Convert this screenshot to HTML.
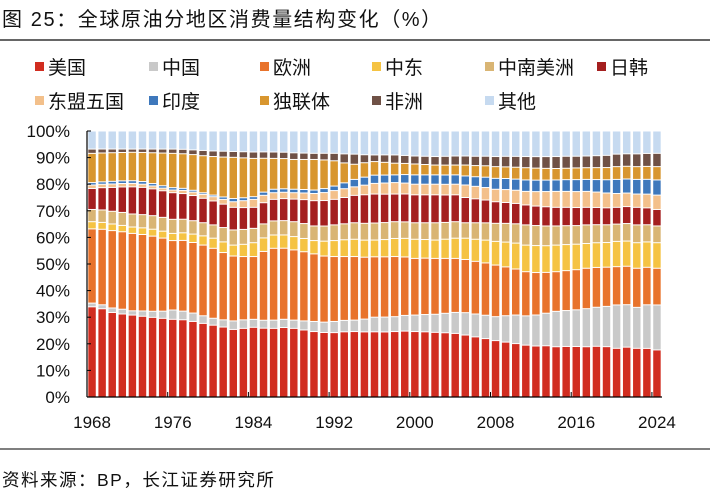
<!DOCTYPE html>
<html><head><meta charset="utf-8">
<style>
body{margin:0;background:#fff;}
#wrap{position:relative;width:710px;height:502px;overflow:hidden;font-family:"Liberation Sans","Noto Sans CJK SC",sans-serif;}
</style></head>
<body>
<div id="wrap">
<svg id="svg" width="710" height="502" xmlns="http://www.w3.org/2000/svg"></svg>
</div>
<script>
const years = [];
for (let y = 1968; y <= 2024; y++) years.push(y);
const seriesNames = ["美国","中国","欧洲","中东","中南美洲","日韩","东盟五国","印度","独联体","非洲","其他"];
const seriesColors = ["#d12d20","#c9c9c9","#e8732c","#f5c343","#d9b574","#a41f1f","#f3c08b","#3e78bc","#d8962f","#6f5146","#c6daf0"];
const usValues = [33.9,33.3,31.9,31.3,30.8,30.5,30.0,29.6,29.2,29.5,28.8,28.0,27.0,26.3,25.4,25.8,26.2,26.0,25.8,26.2,25.8,25.2,24.6,24.3,24.2,24.5,24.6,24.4,24.5,24.5,24.6,24.8,24.6,24.5,24.3,24.1,23.9,23.3,22.6,22.0,21.2,20.8,20.2,19.5,19.1,19.2,18.9,19.0,19.0,18.9,19.1,19.0,18.3,18.8,18.3,18.4,17.7];
const chinaValues = [1.4,1.5,1.7,1.8,1.6,2.0,2.3,2.7,3.5,3.3,3.2,2.9,2.6,2.7,3.2,3.2,3.0,3.0,3.1,3.1,3.1,3.4,3.8,3.9,4.2,4.3,4.3,4.8,5.5,5.6,5.6,5.9,6.2,6.5,6.8,7.3,7.9,8.4,8.6,8.8,9.0,10.0,10.8,11.0,11.6,12.2,13.3,13.5,13.8,14.3,14.7,15.2,16.3,16.0,15.4,16.5,16.9];
const europeValues = [27.9,28.5,29.2,29.2,29.1,28.9,28.3,27.5,26.1,27.0,26.9,26.9,26.3,25.3,24.4,23.8,23.6,26.0,27.0,26.8,26.4,26.0,25.4,24.9,24.4,24.0,23.9,23.2,22.7,22.7,22.6,22.0,21.3,21.2,21.0,20.6,20.3,20.0,19.8,19.7,19.4,18.5,17.4,16.6,15.9,15.3,14.9,15.0,15.1,15.2,15.0,14.8,14.4,14.5,14.7,14.2,13.8];
const middleEastValues = [2.7,2.6,2.5,2.4,2.4,2.5,2.6,2.6,2.7,2.9,3.2,3.5,3.8,4.0,4.1,4.6,5.2,5.1,5.0,5.0,5.0,5.0,5.0,5.6,6.0,6.3,6.5,6.4,6.3,6.5,6.8,7.0,7.2,7.0,6.9,7.2,7.6,8.0,8.3,8.6,8.9,9.4,9.8,10.0,10.1,10.0,10.0,9.8,9.6,9.3,9.3,9.3,9.5,9.5,9.6,9.6,9.6];
const latinAmericaValues = [4.6,4.7,4.8,4.9,4.9,5.0,5.1,5.2,5.3,5.2,5.1,5.0,5.0,5.4,5.7,5.6,5.4,5.3,5.3,5.4,5.6,5.6,5.5,5.7,5.9,6.0,6.2,6.3,6.4,6.4,6.3,6.2,6.2,6.3,6.5,6.3,6.2,5.8,6.2,6.5,6.8,7.1,7.3,7.6,7.5,7.4,7.2,7.1,7.0,7.0,6.8,6.7,6.5,6.6,6.7,6.5,6.3];
const japanKoreaValues = [7.9,8.4,9.0,9.6,10.2,10.3,10.1,10.0,10.0,9.8,9.6,9.3,9.0,8.8,8.5,8.2,7.9,8.0,8.1,8.3,8.5,9.0,9.5,9.6,9.6,9.9,10.3,10.7,10.9,10.7,10.4,10.5,10.5,10.5,10.5,10.3,10.1,9.5,9.0,8.6,8.1,7.9,7.7,7.5,7.3,7.2,7.0,6.9,6.8,6.6,6.5,6.4,6.3,6.4,6.6,6.4,6.2];
const aseanValues = [1.3,1.3,1.3,1.3,1.3,1.2,1.1,1.0,1.0,1.2,1.3,1.5,1.6,1.8,2.1,2.6,3.0,2.8,2.5,2.4,2.4,2.5,2.7,3.0,3.3,3.3,3.2,3.6,4.0,4.2,4.3,4.1,4.0,4.0,4.0,4.0,4.0,4.7,4.7,4.7,4.7,4.9,5.0,5.1,5.4,5.7,6.0,6.0,6.0,6.0,5.8,5.6,5.2,5.1,5.0,5.2,5.4];
const indiaValues = [0.9,0.9,1.0,1.0,1.0,1.0,0.9,0.9,0.9,0.8,0.7,0.6,0.6,0.9,1.2,1.1,1.0,1.2,1.3,1.3,1.3,1.3,1.3,1.5,1.7,2.2,2.8,3.0,3.1,3.0,2.9,3.2,3.5,3.5,3.5,3.5,3.5,3.4,3.6,3.9,4.1,4.2,4.2,4.3,4.3,4.3,4.3,4.4,4.5,4.5,4.7,5.0,5.3,5.3,5.5,5.6,5.7];
const cisValues = [11.0,10.9,10.8,10.7,10.7,11.0,11.6,12.3,12.9,13.2,13.6,14.1,14.5,15.0,15.5,15.0,14.4,12.8,11.6,11.4,11.2,11.3,11.5,10.8,9.5,7.5,5.7,5.4,5.1,4.8,4.4,4.2,4.1,3.9,3.7,3.7,3.7,4.1,4.2,4.3,4.4,4.4,4.5,4.6,4.5,4.4,4.3,4.3,4.4,4.4,4.5,4.6,4.8,4.8,4.8,4.9,5.0];
const africaValues = [1.6,1.5,1.4,1.3,1.2,1.3,1.4,1.5,1.6,1.7,1.8,2.0,2.1,2.2,2.2,2.3,2.4,2.4,2.4,2.4,2.5,2.4,2.3,2.5,2.8,3.4,3.8,3.0,2.5,2.8,3.1,3.0,3.0,3.1,3.2,3.3,3.4,3.4,3.5,3.6,3.8,4.0,4.1,4.2,4.3,4.4,4.5,4.5,4.4,4.4,4.5,4.6,4.7,4.7,4.8,4.9,5.0];
const otherValues = [6.8,6.8,6.8,6.8,6.8,6.8,6.8,6.8,6.8,7.0,7.2,7.4,7.5,7.6,7.7,7.8,7.9,7.9,7.9,8.0,8.2,8.3,8.4,8.4,8.4,8.6,8.7,8.9,9.0,9.0,9.0,9.2,9.4,9.5,9.6,9.5,9.4,9.4,9.5,9.5,9.6,9.6,9.6,9.6,9.6,9.6,9.6,9.5,9.5,9.4,9.3,9.2,8.7,8.6,8.6,8.5,8.4];
const yTicks = [0,10,20,30,40,50,60,70,80,90,100];
const xTickLabels = [1968,1976,1984,1992,2000,2008,2016,2024];

const seriesData = [usValues,chinaValues,europeValues,middleEastValues,latinAmericaValues,japanKoreaValues,aseanValues,indiaValues,cisValues,africaValues,otherValues];
const seriesKeys = ["us","china","europe","middle-east","latin-america","japan-korea","asean","india","cis","africa","other"];

const NS = "http://www.w3.org/2000/svg";
const svg = document.getElementById('svg');
const plot = {left:87, right:662, top:131, bottom:397};
const band = (plot.right - plot.left) / years.length;
const barW = band * 0.74;
function xBand(i){ return plot.left + i * band; }
function yScale(v){ return plot.bottom - (v / 100) * (plot.bottom - plot.top); }
function mk(tag, attrs, parent){
  const e = document.createElementNS(NS, tag);
  for (const k in attrs) e.setAttribute(k, attrs[k]);
  (parent || svg).appendChild(e);
  return e;
}
const font = '"Liberation Sans","Noto Sans CJK SC",sans-serif';

// title
let t = mk('text',{x:2,y:26,'font-size':'20','letter-spacing':'1.6','font-family':font,fill:'#111'});
t.textContent = '图 25：全球原油分地区消费量结构变化（%）';


let ln = mk('line',{x1:0,y1:40,x2:710,y2:40,stroke:'#333','stroke-width':1.5});



// legend
const legendPos = [[33,67],[147,67],[258,67],[370,67],[483,67],[595,67],[33,101],[147,101],[258,101],[370,101],[483,101]];
seriesNames.forEach((n,i)=>{
  const g = mk('g',{});
  
  
  const [lx,ly] = legendPos[i];
  mk('rect',{x:lx+2,y:ly-5,width:9,height:9,fill:seriesColors[i]},g);
  const tx = mk('text',{x:lx+15,y:ly+7,'font-size':'19','font-family':font,fill:'#111'},g);
  tx.textContent = n;
});

// bars
const barsG = mk('g',{});


years.forEach((yr,i)=>{
  let total = 0;
  seriesData.forEach(s=>{ total += s[i]; });
  let cum = 0;
  seriesData.forEach((s,k)=>{
    const v = s[i] / total * 100;
    const y1 = yScale(cum + v), y0 = yScale(cum);
    const r = mk('rect',{x:(xBand(i)+(band-barW)/2).toFixed(2),y:(y1+0.5).toFixed(2),width:barW.toFixed(2),height:Math.max(0,y0-y1-1).toFixed(2),fill:seriesColors[k]},barsG);
    
    
    cum += v;
  });
});

// axes
const axG = mk('g',{});


mk('line',{x1:plot.left,y1:plot.top,x2:plot.left,y2:plot.bottom,stroke:'#000','stroke-width':1.2},axG);
mk('line',{x1:plot.left,y1:plot.bottom,x2:plot.right,y2:plot.bottom,stroke:'#000','stroke-width':1.2},axG);
yTicks.forEach(v=>{
  const y = yScale(v);
  mk('line',{x1:plot.left,y1:y,x2:plot.left+4,y2:y,stroke:'#000','stroke-width':1},axG);
  const tx = mk('text',{x:70,y:y+6,'font-size':'17','font-family':font,'text-anchor':'end',fill:'#111'},axG);
  tx.textContent = v + '%';
  
  
});
xTickLabels.forEach(yr=>{
  const i = years.indexOf(yr);
  const tx0 = xBand(i);
  if (i > 0) mk('line',{x1:tx0,y1:plot.bottom,x2:tx0,y2:plot.bottom-5,stroke:'#000','stroke-width':1},axG);
  const tx = mk('text',{x:xBand(i)+band/2,y:428,'font-size':'17','font-family':font,'text-anchor':'middle',fill:'#111'},axG);
  tx.textContent = yr;
  
  
});

// footer
let fl = mk('line',{x1:0,y1:449,x2:710,y2:449,stroke:'#555','stroke-width':1.5});


let src = mk('text',{x:2,y:486,'font-size':'17.5','letter-spacing':'1.5','font-family':font,fill:'#111'});
src.textContent = '资料来源：BP，长江证券研究所';


</script>
</body></html>
